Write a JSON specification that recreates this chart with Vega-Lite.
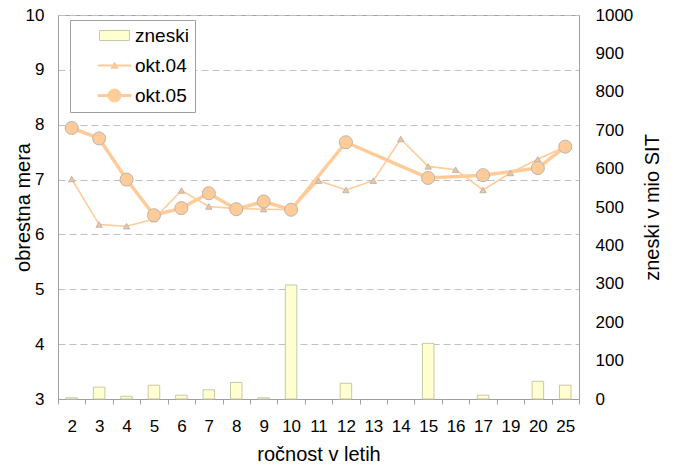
{
  "$schema": "https://vega.github.io/schema/vega-lite/v6.json",
  "width": 521,
  "height": 384,
  "autosize": "none",
  "padding": {"left": 58, "top": 15, "right": 101, "bottom": 70},
  "config": {
    "font": "Liberation Sans",
    "view": {"stroke": "#a0a0a0", "strokeWidth": 1},
    "axis": {
      "labelFont": "Liberation Sans",
      "titleFont": "Liberation Sans",
      "labelFontSize": 17,
      "titleFontSize": 20,
      "titleFontWeight": "normal",
      "labelColor": "#000000",
      "titleColor": "#000000",
      "domainColor": "#a0a0a0",
      "tickColor": "#a0a0a0"
    },
    "legend": {
      "title": "\u00a0",
      "titleOrient": "right",
      "titlePadding": 18,
      "titleFontSize": 19,
      "orient": "none",
      "legendX": 12,
      "legendY": 5,
      "padding": 6,
      "rowPadding": 10,
      "symbolSize": 289,
      "symbolOffset": 29,
      "labelOffset": 11,
      "labelFont": "Liberation Sans",
      "labelFontSize": 19,
      "labelColor": "#000000",
      "fillColor": "#ffffff",
      "strokeColor": "#a0a0a0",
      "symbolStrokeWidth": 1,
      "symbolOpacity": 1
    }
  },
  "datasets": {
    "legenda": [
      {"series": "zneski"},
      {"series": "okt.04"},
      {"series": "okt.05"}
    ],
    "zneski": [
      {"rocnost": "2", "zneski": 3},
      {"rocnost": "3", "zneski": 31},
      {"rocnost": "4", "zneski": 7},
      {"rocnost": "5", "zneski": 36},
      {"rocnost": "6", "zneski": 10},
      {"rocnost": "7", "zneski": 24},
      {"rocnost": "8", "zneski": 43},
      {"rocnost": "9", "zneski": 3},
      {"rocnost": "10", "zneski": 297},
      {"rocnost": "12", "zneski": 41},
      {"rocnost": "15", "zneski": 145},
      {"rocnost": "17", "zneski": 10},
      {"rocnost": "20", "zneski": 46},
      {"rocnost": "25", "zneski": 36}
    ],
    "mera": [
      {"rocnost": "2", "series": "okt.04", "mera": 7.01},
      {"rocnost": "3", "series": "okt.04", "mera": 6.18},
      {"rocnost": "4", "series": "okt.04", "mera": 6.15},
      {"rocnost": "5", "series": "okt.04", "mera": 6.28},
      {"rocnost": "6", "series": "okt.04", "mera": 6.8},
      {"rocnost": "7", "series": "okt.04", "mera": 6.51},
      {"rocnost": "8", "series": "okt.04", "mera": 6.47},
      {"rocnost": "9", "series": "okt.04", "mera": 6.46},
      {"rocnost": "10", "series": "okt.04", "mera": 6.45},
      {"rocnost": "11", "series": "okt.04", "mera": 6.98},
      {"rocnost": "12", "series": "okt.04", "mera": 6.81},
      {"rocnost": "13", "series": "okt.04", "mera": 6.98},
      {"rocnost": "14", "series": "okt.04", "mera": 7.74},
      {"rocnost": "15", "series": "okt.04", "mera": 7.24},
      {"rocnost": "16", "series": "okt.04", "mera": 7.18},
      {"rocnost": "17", "series": "okt.04", "mera": 6.81},
      {"rocnost": "19", "series": "okt.04", "mera": 7.12},
      {"rocnost": "20", "series": "okt.04", "mera": 7.37},
      {"rocnost": "25", "series": "okt.04", "mera": 7.6},
      {"rocnost": "2", "series": "okt.05", "mera": 7.94},
      {"rocnost": "3", "series": "okt.05", "mera": 7.75},
      {"rocnost": "4", "series": "okt.05", "mera": 7.0},
      {"rocnost": "5", "series": "okt.05", "mera": 6.35},
      {"rocnost": "6", "series": "okt.05", "mera": 6.48},
      {"rocnost": "7", "series": "okt.05", "mera": 6.75},
      {"rocnost": "8", "series": "okt.05", "mera": 6.46},
      {"rocnost": "9", "series": "okt.05", "mera": 6.6},
      {"rocnost": "10", "series": "okt.05", "mera": 6.45},
      {"rocnost": "12", "series": "okt.05", "mera": 7.68},
      {"rocnost": "15", "series": "okt.05", "mera": 7.03},
      {"rocnost": "17", "series": "okt.05", "mera": 7.08},
      {"rocnost": "20", "series": "okt.05", "mera": 7.21},
      {"rocnost": "25", "series": "okt.05", "mera": 7.6}
    ]
  },
  "layer": [
    {
      "data": {"name": "zneski"},
      "mark": {"type": "bar", "width": {"band": 0.42}, "fill": "#ffffd0", "stroke": "#c8c8a8", "strokeWidth": 1},
      "encoding": {
        "x": {
          "field": "rocnost",
          "type": "ordinal",
          "scale": {
            "domain": ["2", "3", "4", "5", "6", "7", "8", "9", "10", "11", "12", "13", "14", "15", "16", "17", "19", "20", "25"],
            "paddingInner": 0,
            "paddingOuter": 0
          },
          "axis": {
            "title": "ročnost v letih",
            "labelAngle": 0,
            "tickBand": "extent",
            "tickSize": 5,
            "labelPadding": 14,
            "titlePadding": 10,
            "grid": false
          }
        },
        "y": {
          "field": "zneski",
          "type": "quantitative",
          "scale": {"domain": [0, 1000], "nice": false},
          "axis": {
            "orient": "right",
            "title": "zneski v mio SIT",
            "values": [0, 100, 200, 300, 400, 500, 600, 700, 800, 900, 1000],
            "format": "d",
            "ticks": false,
            "labelPadding": 16,
            "labelFlush": false,
            "grid": false,
            "titleAngle": 270,
            "titlePadding": 30
          }
        }
      }
    },
    {
      "data": {"name": "mera"},
      "encoding": {
        "x": {"field": "rocnost", "type": "ordinal"},
        "y": {
          "field": "mera",
          "type": "quantitative",
          "scale": {"domain": [3, 10], "nice": false, "zero": false},
          "axis": {
            "orient": "left",
            "title": "obrestna mera",
            "values": [3, 4, 5, 6, 7, 8, 9, 10],
            "ticks": false,
            "labelPadding": 14,
            "labelFlush": false,
            "grid": true,
            "gridColor": "#c0c0c0",
            "gridDash": [7, 4],
            "titlePadding": -8
          }
        }
      },
      "layer": [
        {
          "transform": [{"filter": "datum.series === 'okt.05'"}],
          "mark": {"type": "line", "color": "#ffcc99", "strokeWidth": 3.5}
        },
        {
          "transform": [{"filter": "datum.series === 'okt.04'"}],
          "mark": {"type": "line", "color": "#ffcc99", "strokeWidth": 1.6}
        },
        {
          "transform": [{"filter": "datum.series === 'okt.04'"}],
          "mark": {"type": "point", "shape": "triangle-up", "filled": true, "fill": "#eec6a2", "stroke": "#b4aca4", "strokeWidth": 0.8, "size": 40, "opacity": 1}
        },
        {
          "transform": [{"filter": "datum.series === 'okt.05'"}],
          "mark": {"type": "point", "shape": "circle", "filled": true, "fill": "#ffcc99", "stroke": "#bcb4ac", "strokeWidth": 1, "size": 170, "opacity": 1}
        }
      ]
    },
    {
      "data": {"name": "legenda"},
      "mark": {"type": "point", "filled": true, "opacity": 0},
      "encoding": {
        "fill": {
          "field": "series",
          "type": "nominal",
          "scale": {"domain": ["zneski", "okt.04", "okt.05"], "range": ["#ffffd0", "#eec6a2", "#ffcc99"]}
        },
        "stroke": {
          "field": "series",
          "type": "nominal",
          "scale": {"domain": ["zneski", "okt.04", "okt.05"], "range": ["#c8c8a8", "#ffcc99", "#ffcc99"]}
        },
        "shape": {
          "field": "series",
          "type": "nominal",
          "scale": {
            "domain": ["zneski", "okt.04", "okt.05"],
            "range": [
              "M-1.76,-0.59H1.76V0.59H-1.76Z",
              "M-1.94,-0.06H1.94V0.06H-1.94ZM0,-0.4L0.42,0.32H-0.42Z",
              "M-1.94,-0.12H1.94V0.12H-1.94ZM-0.76,0A0.76,0.76 0 1,1 0.76,0A0.76,0.76 0 1,1 -0.76,0Z"
            ]
          }
        }
      }
    }
  ],
  "resolve": {"scale": {"y": "independent"}}
}
